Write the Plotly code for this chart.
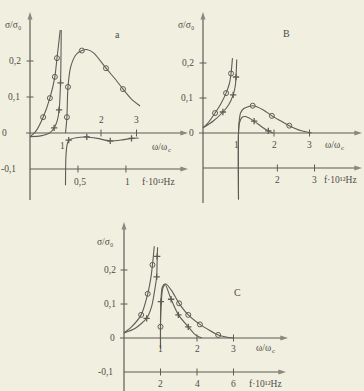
import plotly.graph_objects as go

W, H = 364, 391
INK = "#5e5d55"
TXT = "#4d4c46"
BG = "#f1efe0"
FONT = "Liberation Serif"

# ---------------- data ----------------
# panel a
A_L1_X = [0, 0.15, 0.37, 0.56, 0.70, 0.76, 0.81, 0.85]
A_L1_Y = [-0.01, 0.003, 0.044, 0.097, 0.156, 0.208, 0.25, 0.286]
A_L1_MX = [0.37, 0.56, 0.70, 0.76]
A_L1_MY = [0.044, 0.097, 0.156, 0.208]
A_L2_X = [0, 0.3, 0.55, 0.68, 0.77, 0.82, 0.86, 0.88]
A_L2_Y = [-0.01, -0.008, 0.0, 0.014, 0.035, 0.064, 0.139, 0.286]
A_L2_MX = [0.68, 0.82, 0.86]
A_L2_MY = [0.014, 0.064, 0.139]
A_R1_X = [1.0, 1.02, 1.04, 1.07, 1.15, 1.3, 1.46, 1.6, 1.8, 2.14, 2.4, 2.62, 2.85, 3.1]
A_R1_Y = [0.0, 0.02, 0.044, 0.128, 0.185, 0.218, 0.229, 0.232, 0.222, 0.18, 0.15, 0.122, 0.095, 0.075]
A_R1_MX = [1.04, 1.07, 1.46, 2.14, 2.62]
A_R1_MY = [0.044, 0.128, 0.229, 0.18, 0.122]
A_R2_X = [1.0, 1.01, 1.04, 1.09, 1.3, 1.6, 1.9, 2.26, 2.6, 2.86, 3.06]
A_R2_Y = [-0.145, -0.07, -0.035, -0.02, -0.013, -0.011, -0.015, -0.022, -0.019, -0.015, -0.014]
A_R2_MX = [1.09, 1.6, 2.26, 2.86]
A_R2_MY = [-0.02, -0.011, -0.022, -0.015]

# panel b
B_L1_X = [0, 0.15, 0.34, 0.5, 0.65, 0.74, 0.79, 0.83]
B_L1_Y = [0.015, 0.03, 0.057, 0.083, 0.114, 0.14, 0.17, 0.214]
B_L1_MX = [0.34, 0.65, 0.79]
B_L1_MY = [0.057, 0.114, 0.17]
B_L2_X = [0, 0.3, 0.56, 0.72, 0.85, 0.91, 0.93, 0.95]
B_L2_Y = [0.015, 0.035, 0.06, 0.08, 0.109, 0.135, 0.16, 0.21]
B_L2_MX = [0.56, 0.85, 0.93]
B_L2_MY = [0.06, 0.109, 0.16]
B_R1_X = [1.0, 1.0, 1.02, 1.06, 1.15, 1.4, 1.7, 1.94, 2.2, 2.43, 2.75, 3.06]
B_R1_Y = [-0.19, 0.0, 0.035, 0.058, 0.07, 0.078, 0.066, 0.049, 0.034, 0.021, 0.007, 0.0]
B_R1_MX = [1.4, 1.94, 2.43]
B_R1_MY = [0.078, 0.049, 0.021]
B_R2_X = [1.0, 1.0, 1.03, 1.1, 1.2, 1.44, 1.65, 1.84, 1.97]
B_R2_Y = [-0.19, 0.0, 0.03, 0.045, 0.047, 0.034, 0.018, 0.006, 0.0]
B_R2_MX = [1.44, 1.84]
B_R2_MY = [0.034, 0.006]

# panel c
C_L1_X = [0, 0.2, 0.47, 0.65, 0.74, 0.78, 0.83]
C_L1_Y = [0.015, 0.032, 0.068, 0.13, 0.18, 0.215, 0.27]
C_L1_MX = [0.47, 0.65, 0.78]
C_L1_MY = [0.068, 0.13, 0.215]
C_L2_X = [0, 0.3, 0.62, 0.76, 0.84, 0.895, 0.91, 0.92]
C_L2_Y = [0.015, 0.028, 0.058, 0.094, 0.14, 0.18, 0.24, 0.267]
C_L2_MX = [0.62, 0.895, 0.91]
C_L2_MY = [0.058, 0.18, 0.24]
C_R1_X = [1.0, 1.0, 1.02, 1.06, 1.15, 1.3, 1.51, 1.76, 2.08, 2.35, 2.58, 2.8, 3.0]
C_R1_Y = [-0.03, 0.033, 0.1, 0.145, 0.159, 0.14, 0.102, 0.068, 0.04, 0.022, 0.009, 0.003, 0.0]
C_R1_MX = [1.0, 1.51, 1.76, 2.08, 2.58]
C_R1_MY = [0.033, 0.102, 0.068, 0.04, 0.009]
C_R2_X = [1.0, 1.0, 1.01, 1.05, 1.12, 1.29, 1.49, 1.76, 1.95, 2.13]
C_R2_Y = [-0.03, 0.05, 0.107, 0.15, 0.159, 0.114, 0.068, 0.033, 0.01, 0.0]
C_R2_MX = [1.01, 1.29, 1.49, 1.76]
C_R2_MY = [0.107, 0.114, 0.068, 0.033]

# tick labels
Y_TICKS = [0.2, 0.1, 0, -0.1]
Y_TICK_TEXT = ["0,2", "0,1", "0", "-0,1"]
A_W_TICKS = [1, 2, 3]
B_W_TICKS = [1, 2, 3]
C_W_TICKS = [1, 2, 3]
A_F_TICKS = [0.5, 1]
A_F_TEXT = ["0,5", "1"]
B_F_TICKS = [2, 3]
B_F_TEXT = ["2", "3"]
C_F_TICKS = [2, 4, 6]
C_F_TEXT = ["2", "4", "6"]
F_PER_W = {"a": 0.37, "b": 0.955, "c": 2.0}   # f (10^12 Hz) per unit of w/wc
PANEL_LETTER = {"a": "a", "b": "B", "c": "C"}
Y_TITLE = "σ/σ₀"
W_TITLE_MAIN, W_TITLE_SUB = "ω/ω", "c"
F_TITLE = "f·10¹²Hz"

# ---------------- geometry (pixels) ----------------
GEO = {
    "a": dict(ax="x", ay="y", x0=30, sx=35.5, y0=133, sy=360, L=0, R=192, T=0, B=210,
              yaxis_px=(200, 12), waxis_px=(26, 188), faxis_px=(30, 188)),
    "b": dict(ax="x2", ay="y2", x0=203, sx=35.5, y0=133, sy=350, L=182, R=364, T=0, B=210,
              yaxis_px=(203, 12), waxis_px=(199, 362), faxis_px=(203, 362)),
    "c": dict(ax="x3", ay="y3", x0=124, sx=36.5, y0=338, sy=340, L=90, R=300, T=212, B=391,
              yaxis_px=(391, 222), waxis_px=(120, 288), faxis_px=(124, 286)),
}


def wx(g, px):
    return (px - g["x0"]) / g["sx"]


def vy(g, py):
    return (g["y0"] - py) / g["sy"]


fig = go.Figure()

CURVES = {
    "a": [(A_L1_X, A_L1_Y, A_L1_MX, A_L1_MY, "o"), (A_L2_X, A_L2_Y, A_L2_MX, A_L2_MY, "+"),
          (A_R1_X, A_R1_Y, A_R1_MX, A_R1_MY, "o"), (A_R2_X, A_R2_Y, A_R2_MX, A_R2_MY, "+")],
    "b": [(B_L1_X, B_L1_Y, B_L1_MX, B_L1_MY, "o"), (B_L2_X, B_L2_Y, B_L2_MX, B_L2_MY, "+"),
          (B_R1_X, B_R1_Y, B_R1_MX, B_R1_MY, "o"), (B_R2_X, B_R2_Y, B_R2_MX, B_R2_MY, "+")],
    "c": [(C_L1_X, C_L1_Y, C_L1_MX, C_L1_MY, "o"), (C_L2_X, C_L2_Y, C_L2_MX, C_L2_MY, "+"),
          (C_R1_X, C_R1_Y, C_R1_MX, C_R1_MY, "o"), (C_R2_X, C_R2_Y, C_R2_MX, C_R2_MY, "+")],
}

TICK_MARK = dict(size=5, color=INK, line=dict(width=1, color=INK))

ann = []
layout_axes = {}
for i, key in enumerate(["a", "b", "c"]):
    g = GEO[key]
    sfx = "" if i == 0 else str(i + 1)
    layout_axes["xaxis" + sfx] = dict(
        domain=[g["L"] / W, g["R"] / W], range=[wx(g, g["L"]), wx(g, g["R"])],
        visible=False, fixedrange=True, anchor="y" + sfx)
    layout_axes["yaxis" + sfx] = dict(
        domain=[1 - g["B"] / H, 1 - g["T"] / H], range=[vy(g, g["B"]), vy(g, g["T"])],
        visible=False, fixedrange=True, anchor="x" + sfx)

    # axes drawn as lines ending in arrowheads
    ypb, ypt = g["yaxis_px"]
    axis_lines = [
        ([0, 0], [vy(g, ypb), vy(g, ypt)]),
        ([wx(g, g["waxis_px"][0]), wx(g, g["waxis_px"][1])], [0, 0]),
        ([wx(g, g["faxis_px"][0]), wx(g, g["faxis_px"][1])], [-0.1, -0.1]),
    ]
    for lx, ly in axis_lines:
        fig.add_trace(go.Scatter(
            x=lx, y=ly, mode="lines+markers", xaxis=g["ax"], yaxis=g["ay"],
            line=dict(color=INK, width=1.2),
            marker=dict(symbol="arrow", angleref="previous", size=[0, 8], color=INK,
                        line=dict(width=0)),
            hoverinfo="skip"))

    # curves
    for cx, cy, mx, my, kind in CURVES[key]:
        fig.add_trace(go.Scatter(x=cx, y=cy, mode="lines", xaxis=g["ax"], yaxis=g["ay"],
                                 line=dict(color=INK, width=1.1, shape="spline", smoothing=0.7),
                                 hoverinfo="skip"))
        if kind == "o":
            mk = dict(symbol="circle-open", size=5, color=INK, line=dict(width=1, color=INK))
        else:
            mk = dict(symbol="cross-thin-open", size=4.5, color=INK, line=dict(width=1.3, color=INK))
        fig.add_trace(go.Scatter(x=mx, y=my, mode="markers", xaxis=g["ax"], yaxis=g["ay"],
                                 marker=mk, hoverinfo="skip"))

F = dict(family=FONT, size=10, color=TXT)
FS = dict(family=FONT, size=9.5, color=TXT)
FSUB = dict(family=FONT, size=7, color=TXT)


def text(ref_x, ref_y, x, y, s, xanchor="center", yanchor="middle", font=F, xshift=0, yshift=0):
    ann.append(dict(x=x, y=y, xref=ref_x, yref=ref_y, text=s, showarrow=False,
                    xanchor=xanchor, yanchor=yanchor, font=font, xshift=xshift, yshift=yshift))


# y tick labels (right edges in px)
YTICK_RIGHT = {"a": [23, 22, 9, 18], "b": [196, 195, 196, None], "c": [118, 118, 117, 115]}
for key in ["a", "b", "c"]:
    g = GEO[key]
    for v, t, r in zip(Y_TICKS, Y_TICK_TEXT, YTICK_RIGHT[key]):
        if r is None:
            continue
        text("paper", g["ay"], r / W, v, t, xanchor="right", font=FS)
    tv = [v for v in Y_TICKS if v > 0]
    fig.add_trace(go.Scatter(x=[0] * len(tv), y=tv, mode="markers", xaxis=g["ax"], yaxis=g["ay"],
                             marker=dict(symbol="line-ew-open", **TICK_MARK), hoverinfo="skip"))
    ylab_px = {"a": (13, 25), "b": (186, 25), "c": (105, 242)}[key]
    text("paper", "paper", ylab_px[0] / W, 1 - ylab_px[1] / H, Y_TITLE, font=FS)
    lp = {"a": (117, 35), "b": (286, 34), "c": (237, 292)}[key]
    text("paper", "paper", lp[0] / W, 1 - lp[1] / H, PANEL_LETTER[key], font=F)

# omega tick labels
W_LABEL_PY = {"a": [146, 120, 120], "b": [145, 145, 145], "c": [349, 349, 349]}
W_LABEL_SHIFT = {"a": [-3, 0, 0], "b": [-2, 0, 0], "c": [0, 0, 0]}
for key, ticks in [("a", A_W_TICKS), ("b", B_W_TICKS), ("c", C_W_TICKS)]:
    g = GEO[key]
    for t, py, sh in zip(ticks, W_LABEL_PY[key], W_LABEL_SHIFT[key]):
        text(g["ax"], "paper", t, 1 - py / H, str(t), xshift=sh, font=FS)
    tk = [t for t in ticks if t > 1]
    fig.add_trace(go.Scatter(x=tk, y=[0] * len(tk), mode="markers", xaxis=g["ax"], yaxis=g["ay"],
                             marker=dict(symbol="line-ns-open", **TICK_MARK), hoverinfo="skip"))
    # axis title w/wc : right edge of "ω/ω" at px, then subscript c
    wl = {"a": (169, 147), "b": (342, 145), "c": (273, 348)}[key]
    text("paper", "paper", wl[0] / W, 1 - wl[1] / H, W_TITLE_MAIN, xanchor="right", font=FS)
    text("paper", "paper", (wl[0] - 3) / W, 1 - (wl[1] + 3) / H, W_TITLE_SUB, xanchor="left", font=FSUB)

# f tick labels
F_LABEL_PY = {"a": 182, "b": 180, "c": 384}
for key, ticks, tt in [("a", A_F_TICKS, A_F_TEXT), ("b", B_F_TICKS, B_F_TEXT), ("c", C_F_TICKS, C_F_TEXT)]:
    g = GEO[key]
    xs = [f / F_PER_W[key] for f in ticks]
    for x, s in zip(xs, tt):
        text(g["ax"], "paper", x, 1 - F_LABEL_PY[key] / H, s, font=FS, xshift=2 if key == "a" else 0)
    fig.add_trace(go.Scatter(x=xs, y=[-0.1] * len(xs), mode="markers", xaxis=g["ax"], yaxis=g["ay"],
                             marker=dict(symbol="line-ns-open", **TICK_MARK), hoverinfo="skip"))
    fl = {"a": (158, 182), "b": (340, 180), "c": (265, 384)}[key]
    text("paper", "paper", fl[0] / W, 1 - fl[1] / H, F_TITLE, font=FS)

fig.update_layout(
    width=W, height=H, margin=dict(l=0, r=0, t=0, b=0),
    paper_bgcolor=BG, plot_bgcolor="rgba(0,0,0,0)", showlegend=False,
    annotations=ann, **layout_axes)

fig.write_html("out.html", config={"displayModeBar": False},
               post_script="document.body.style.margin='0';")
